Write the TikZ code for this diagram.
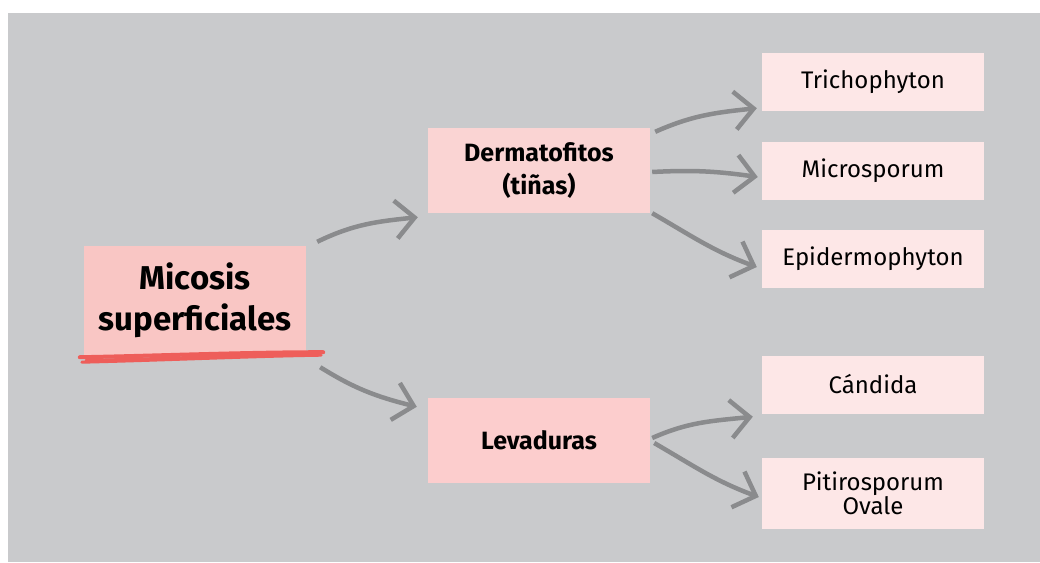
\documentclass[tikz,border=0pt]{standalone}
\usepackage{fontspec}
\setmainfont{Fira Sans}
\usetikzlibrary{arrows.meta}
\definecolor{bggray}{HTML}{C9CACC}
\definecolor{mainfill}{HTML}{F9C6C4}
\definecolor{midfill}{HTML}{FAD4D3}
\definecolor{levfill}{HTML}{FCCDCD}
\definecolor{leaffill}{HTML}{FDE7E7}
\definecolor{arrgray}{HTML}{8A8B8D}
\definecolor{redline}{HTML}{EE5E5A}
\tikzset{
  mainbox/.style={fill=mainfill, minimum width=222pt, minimum height=109pt, inner sep=0pt, align=center,
    font=\fontsize{33}{41}\selectfont\bfseries},
  midbox/.style={minimum width=222pt, minimum height=85pt, inner sep=0pt, align=center,
    font=\fontsize{25}{33}\selectfont\bfseries},
  leafbox/.style={fill=leaffill, minimum width=222pt, minimum height=58pt, inner sep=0pt, align=center,
    font=\fontsize{24}{23}\selectfont},
  conn/.style={draw=arrgray, line width=4.5pt,
    -{Straight Barb[length=19pt, width=38pt, line width=4.5pt]}},
}
\begin{document}
\begin{tikzpicture}[x=1pt,y=1pt]
\useasboundingbox (0,0) rectangle (1040,-562);
\fill[white] (0,0) rectangle (1040,-562);
\fill[bggray] (8,-13) rectangle (1040,-562);

\node[mainbox] (mic) at (195,-300.5) {Micosis\\superficiales};
\node[midbox, fill=midfill] (derm) at (539,-170.5) {Dermatofitos\\(tiñas)};
\node[midbox, fill=levfill] (lev) at (539,-440.5) {Levaduras};
\node[leafbox] (tri) at (873,-82) {Trichophyton};
\node[leafbox] (micro) at (873,-170.5) {Microsporum};
\node[leafbox] (epi) at (873,-258.5) {Epidermophyton};
\node[leafbox] (can) at (873,-384.5) {Cándida};
\node[leafbox, minimum height=71pt] (pit) at (873,-493.5) {Pitirosporum\\Ovale};

% red hand-drawn underline
\draw[redline, line width=4pt, line cap=round]
  ([shift={(-4,-2)}]mic.south west) .. controls ([shift={(60,-1)}]mic.south west) and ([shift={(160,3)}]mic.south west) .. ([shift={(17,3)}]mic.south east);
\draw[redline, line width=3pt, line cap=round]
  ([shift={(-2,-7)}]mic.south west) .. controls ([shift={(80,-5)}]mic.south west) and ([shift={(170,-1)}]mic.south west) .. ([shift={(15,0)}]mic.south east);
\draw[redline, line width=2.5pt, line cap=round]
  ([shift={(2,-5)}]mic.south west) .. controls ([shift={(90,-3)}]mic.south west) and ([shift={(150,0)}]mic.south west) .. ([shift={(12,1)}]mic.south east);

% connectors
\draw[conn] ([shift={(11,4)}]mic.north east) to[out=26,in=186] ([shift={(-10,-4)}]derm.south west);
\draw[conn] ([shift={(14,-12)}]mic.south east) to[out=-32,in=166] ([shift={(-11,-9)}]lev.north west);
\draw[conn] ([shift={(5,-4)}]derm.north east) to[out=24,in=186] ([shift={(-5,3)}]tri.south west);
\draw[conn] ([shift={(2,-1.5)}]derm.east) to[out=3,in=172] ([shift={(-4,-6.5)}]micro.west);
\draw[conn] ([shift={(2,0)}]derm.south east) to[out=-30,in=160] ([shift={(-5,-8.5)}]epi.west);
\draw[conn] ([shift={(2,2.5)}]lev.east) to[out=24,in=186] ([shift={(-9,-3)}]can.south west);
\draw[conn] ([shift={(4,-2.5)}]lev.east) to[out=-30,in=160] ([shift={(-3,-3.5)}]pit.west);
\end{tikzpicture}
\end{document}
